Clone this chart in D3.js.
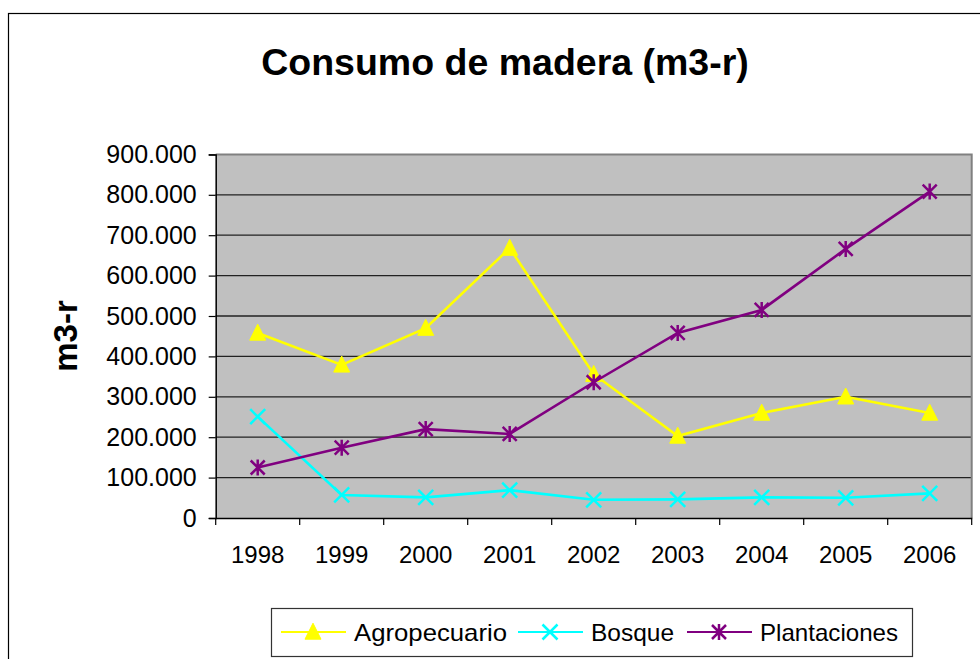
<!DOCTYPE html>
<html>
<head>
<meta charset="utf-8">
<script src="https://cdn.jsdelivr.net/npm/d3@7"></script>
<style>
  body { margin: 0; background: #fff; }
  svg { display: block; font-family: "Liberation Sans", Arial, sans-serif; }
</style>
</head>
<body>
<div class="chart"></div>
<script>
var svgWidth = 980;
var svgHeight = 659;

// data
var years = ["1998", "1999", "2000", "2001", "2002", "2003", "2004", "2005", "2006"];
var agropecuario = [458000, 379000, 470000, 668000, 356000, 203000, 260000, 300000, 260000];
var bosque = [251000, 57000, 51000, 69000, 45000, 46000, 51000, 50000, 61000];
var plantaciones = [125000, 174000, 220000, 208000, 336000, 458000, 515000, 666000, 808000];
var yTicks = [0, 100000, 200000, 300000, 400000, 500000, 600000, 700000, 800000, 900000];
var seriesNames = ["Agropecuario", "Bosque", "Plantaciones"];

var plot = { left: 215.7, right: 971.7, top: 154.4, bottom: 518 };

var svg = d3.select(".chart")
  .append("svg")
  .attr("width", svgWidth)
  .attr("height", svgHeight);

// outer frame
svg.append("rect")
  .attr("x", 8.5)
  .attr("y", 13.5)
  .attr("width", 1000)
  .attr("height", 700)
  .attr("fill", "#fff")
  .attr("stroke", "#000")
  .attr("stroke-width", 1.2);

var x = d3.scaleBand()
  .domain(years)
  .range([plot.left, plot.right]);

var y = d3.scaleLinear()
  .domain([0, 900000])
  .range([plot.bottom, plot.top]);

var loc = d3.formatLocale({ decimal: ",", thousands: ".", grouping: [3], currency: ["", ""] });
var fmt = loc.format(",");

// plot background
svg.append("rect")
  .attr("x", plot.left)
  .attr("y", plot.top)
  .attr("width", plot.right - plot.left)
  .attr("height", plot.bottom - plot.top)
  .attr("fill", "#c0c0c0");

// gridlines
svg.append("g")
  .selectAll("line")
  .data(yTicks.filter(d => d > 0 && d < 900000))
  .enter().append("line")
  .attr("x1", plot.left)
  .attr("x2", plot.right)
  .attr("y1", d => y(d))
  .attr("y2", d => y(d))
  .attr("stroke", "#222")
  .attr("stroke-width", 1.3);

// top and right border
svg.append("path")
  .attr("d", `M${plot.left},${plot.top}H${plot.right}V${plot.bottom}`)
  .attr("fill", "none")
  .attr("stroke", "#808080")
  .attr("stroke-width", 2);

// axes
var leftAxis = d3.axisLeft(y)
  .tickValues(yTicks)
  .tickSize(7)
  .tickPadding(12)
  .tickFormat(fmt);

var gy = svg.append("g")
  .attr("transform", `translate(${plot.left},0)`)
  .call(leftAxis);
gy.select(".domain").attr("stroke", "#000").attr("stroke-width", 1.5);
gy.selectAll(".tick line").attr("stroke", "#000").attr("stroke-width", 1.2);
gy.selectAll("text")
  .attr("font-size", 25)
  .attr("fill", "#000")
  .attr("font-family", "Liberation Sans, Arial, sans-serif");

var bottomAxis = d3.axisBottom(x)
  .tickSize(0)
  .tickPadding(28);

var gx = svg.append("g")
  .attr("transform", `translate(0,${plot.bottom})`)
  .call(bottomAxis);
gx.select(".domain").attr("stroke", "#000").attr("stroke-width", 1.5);
gx.selectAll("text")
  .attr("font-size", 24)
  .attr("fill", "#000")
  .attr("font-family", "Liberation Sans, Arial, sans-serif");

// category boundary ticks
gx.append("g")
  .selectAll("line")
  .data(years.concat(["end"]))
  .enter().append("line")
  .attr("x1", (d, i) => plot.left + i * x.bandwidth())
  .attr("x2", (d, i) => plot.left + i * x.bandwidth())
  .attr("y1", 0)
  .attr("y2", 7)
  .attr("stroke", "#000")
  .attr("stroke-width", 1.2);

// title
svg.append("text")
  .attr("x", 505)
  .attr("y", 75)
  .attr("text-anchor", "middle")
  .attr("font-size", 37.5)
  .attr("font-weight", "bold")
  .text("Consumo de madera (m3-r)");

// y axis label
svg.append("text")
  .attr("transform", "translate(77,336) rotate(-90)")
  .attr("text-anchor", "middle")
  .attr("font-size", 33)
  .attr("font-weight", "bold")
  .text("m3-r");

// markers
function triangle(g, s) {
  g.append("path")
    .attr("d", `M0,${-s * 0.55}L${s * 0.5},${s * 0.45}L${-s * 0.5},${s * 0.45}Z`)
    .attr("fill", "#ffff00")
    .attr("stroke", "#ffff00")
    .attr("stroke-width", 1);
}
function cross(g, s, color) {
  var h = s / 2;
  g.append("path")
    .attr("d", `M${-h},${-h}L${h},${h}M${-h},${h}L${h},${-h}`)
    .attr("stroke", color)
    .attr("stroke-width", 2.5)
    .attr("fill", "none");
}
function star(g, s, color) {
  var h = s / 2;
  g.append("path")
    .attr("d", `M${-h},${-h}L${h},${h}M${-h},${h}L${h},${-h}M0,${-h * 1.15}V${h * 1.15}`)
    .attr("stroke", color)
    .attr("stroke-width", 2.5)
    .attr("fill", "none");
}

var series = [
  { name: seriesNames[0], values: agropecuario, color: "#ffff00", marker: (g) => triangle(g, 16) },
  { name: seriesNames[1], values: bosque, color: "#00ffff", marker: (g) => cross(g, 15, "#00ffff") },
  { name: seriesNames[2], values: plantaciones, color: "#800080", marker: (g) => star(g, 14, "#800080") }
];

var line = d3.line()
  .x((d, i) => x(years[i]) + x.bandwidth() / 2)
  .y(d => y(d));

series.forEach(function(s) {
  svg.append("path")
    .attr("d", line(s.values))
    .attr("fill", "none")
    .attr("stroke", s.color)
    .attr("stroke-width", 2.6);

  svg.append("g")
    .selectAll("g")
    .data(s.values)
    .enter().append("g")
    .attr("transform", (d, i) => `translate(${x(years[i]) + x.bandwidth() / 2},${y(d)})`)
    .each(function() { s.marker(d3.select(this)); });
});

// legend
var legend = svg.append("g");
legend.append("rect")
  .attr("x", 271.5)
  .attr("y", 608.5)
  .attr("width", 641)
  .attr("height", 48)
  .attr("fill", "#fff")
  .attr("stroke", "#333")
  .attr("stroke-width", 1.2);

var legendX = [281, 518, 687];
var legendTextW = [153, 83, 138];
series.forEach(function(s, i) {
  var g = legend.append("g").attr("transform", `translate(${legendX[i]},632)`);
  g.append("line")
    .attr("x1", 0).attr("x2", 65)
    .attr("y1", 0).attr("y2", 0)
    .attr("stroke", s.color)
    .attr("stroke-width", 1.8);
  var m = g.append("g").attr("transform", "translate(32,0)");
  s.marker(m);
  g.append("text")
    .attr("x", 73)
    .attr("y", 8.5)
    .attr("font-size", 24)
    .attr("textLength", legendTextW[i])
    .attr("lengthAdjust", "spacingAndGlyphs")
    .text(s.name);
});
</script>
</body>
</html>
